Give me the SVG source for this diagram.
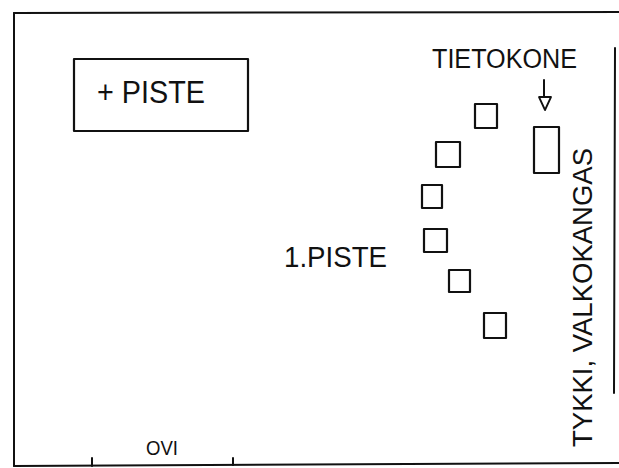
<svg xmlns="http://www.w3.org/2000/svg" width="619" height="468" viewBox="0 0 619 468">
<style>
.ln{fill:none;stroke:#111;stroke-width:2;stroke-linecap:round;stroke-linejoin:round}
.bx{fill:none;stroke:#111;stroke-width:2.2;stroke-linejoin:round}
.t{font-family:"Liberation Sans","DejaVu Sans",sans-serif;fill:#111;font-weight:normal}
</style>
<defs>
<marker id="ah" viewBox="0 0 12 14" refX="6" refY="13" markerWidth="12" markerHeight="14" orient="auto-start-reverse" markerUnits="userSpaceOnUse">
<path d="M1,1 L11,1 L6,13 Z" fill="none" stroke="#111" stroke-width="1.8" stroke-linejoin="round"/>
</marker>
</defs>
<rect width="619" height="468" fill="#fff"/>
<g id="frame">
<path class="ln" d="M14,13 L619,12"/>
<path class="ln" d="M14,13 L14,466"/>
<path class="ln" d="M14,466 L619,463"/>
<path class="ln" d="M615,48 L614,393"/>
<path class="ln" d="M92,458 L92,466"/>
<path class="ln" d="M233,458 L233,465"/>
</g>
<g id="plus-piste">
<rect class="bx" x="74" y="59" width="174" height="72"/>
<text class="t" x="97" y="103" font-size="32" textLength="108" lengthAdjust="spacingAndGlyphs">+ PISTE</text>
</g>
<g id="tietokone-label">
<text class="t" x="432" y="68" font-size="27" textLength="145" lengthAdjust="spacingAndGlyphs">TIETOKONE</text>
</g>
<g id="tietokone">
<rect class="bx" x="534" y="127" width="25" height="46"/>
</g>
<g id="piste-1-label">
<text class="t" x="284" y="267" font-size="30" textLength="103" lengthAdjust="spacingAndGlyphs">1.PISTE</text>
</g>
<g id="piste-squares">
<rect class="bx" x="475" y="104" width="22" height="24"/>
<rect class="bx" x="436" y="142" width="24" height="25"/>
<rect class="bx" x="422" y="185" width="20" height="23"/>
<rect class="bx" x="424" y="229" width="23" height="23"/>
<rect class="bx" x="449" y="270" width="21" height="22"/>
<rect class="bx" x="484" y="313" width="22" height="25"/>
</g>
<g id="ovi">
<text class="t" x="146" y="455" font-size="20" textLength="32" lengthAdjust="spacingAndGlyphs">OVI</text>
</g>
<g id="tykki-label">
<text class="t" transform="translate(592,447) rotate(-90)" x="0" y="0" font-size="28" textLength="299" lengthAdjust="spacingAndGlyphs">TYKKI, VALKOKANGAS</text>
</g>
<g id="connectors">
<path class="ln" d="M544,80 L544,97"/>
<path d="M539,97 L551,97 L545,110 Z" fill="none" stroke="#111" stroke-width="1.8" stroke-linejoin="round"/>
</g>
</svg>
